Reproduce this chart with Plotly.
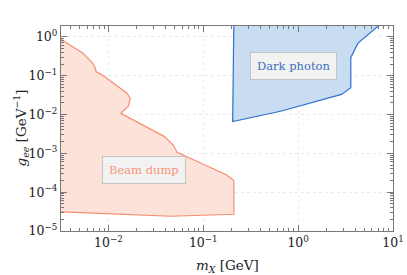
import plotly.graph_objects as go

# Beam dump excluded region (m_X [GeV], g_ee [GeV^-1])
beam_x = [0.00316, 0.0054, 0.0068, 0.0073, 0.0074, 0.0091, 0.0158, 0.017, 0.0163, 0.0135,
          0.039, 0.048, 0.053, 0.175, 0.21, 0.21, 0.045, 0.012, 0.00316]
beam_y = [0.87, 0.38, 0.21, 0.155, 0.128, 0.095, 0.035, 0.026, 0.0166, 0.0107,
          0.0027, 0.00166, 0.00107, 2.8e-4, 2.0e-4, 2.7e-5, 2.4e-5, 2.75e-5, 3.1e-5]

# Dark photon excluded region
dark_x = [0.21, 0.204, 0.67, 2.86, 3.59, 3.59, 4.28, 7.96, 0.21]
dark_y = [2.5, 0.0066, 0.0123, 0.033, 0.049, 0.295, 0.69, 2.5, 2.5]

x_tickvals = [0.01, 0.1, 1, 10]
x_ticktext = ["10<sup>−2</sup>", "10<sup>−1</sup>", "10<sup>0</sup>", "10<sup>1</sup>"]
y_tickvals = [1e-5, 1e-4, 1e-3, 1e-2, 1e-1, 1]
y_ticktext = ["10<sup>−5</sup>", "10<sup>−4</sup>", "10<sup>−3</sup>", "10<sup>−2</sup>",
              "10<sup>−1</sup>", "10<sup>0</sup>"]

x_minor = [k * 10.0 ** e for e in range(-3, 1) for k in range(2, 10)]
y_minor = [k * 10.0 ** e for e in range(-5, 1) for k in range(2, 10)]

FONT = "DejaVu Serif"

fig = go.Figure()
fig.add_trace(go.Scatter(x=beam_x, y=beam_y, mode="lines", fill="toself",
                         fillcolor="#fde2da",
                         line=dict(color="#f88d6f", width=1.2), hoverinfo="skip"))
fig.add_trace(go.Scatter(x=dark_x, y=dark_y, mode="lines", fill="toself",
                         fillcolor="#c8dcf2",
                         line=dict(color="#2f72d0", width=1.2), hoverinfo="skip"))

fig.add_annotation(x=-1.63, y=-3.43, xref="x", yref="y", text="Beam dump", showarrow=False,
                   font=dict(family=FONT, size=11.5, color="#f99478"),
                   bgcolor="#f2f2f2", bordercolor="#c4c4c4", borderwidth=1, borderpad=6)
fig.add_annotation(x=-0.047, y=-0.755, xref="x", yref="y", text="Dark photon", showarrow=False,
                   font=dict(family=FONT, size=11.5, color="#3a6fc0"),
                   bgcolor="#f2f2f2", bordercolor="#c4c4c4", borderwidth=1, borderpad=6)

# axis titles
fig.add_annotation(x=0.5, y=0, xref="paper", yref="paper", yanchor="top", yshift=-24,
                   text="<i>m</i><sub><i>X</i></sub> [GeV]", showarrow=False,
                   font=dict(family=FONT, size=13.5, color="#222"))
fig.add_annotation(x=0, y=0.5, xref="paper", yref="paper", xanchor="center", xshift=-40,
                   text="<i>g</i><sub><i>ee</i></sub> [GeV<sup>−1</sup>]", showarrow=False,
                   textangle=-90, font=dict(family=FONT, size=13.5, color="#222"))

def axis_common(minor_vals):
    return dict(
        showline=True, linecolor="#777", linewidth=1.2, mirror="allticks",
        ticks="inside", ticklen=6, tickcolor="#777", tickwidth=1,
        showgrid=True, gridcolor="#ebebeb", griddash="dot", gridwidth=1,
        zeroline=False, automargin=False,
        tickfont=dict(family=FONT, size=12.5, color="#222"),
        minor=dict(ticks="inside", ticklen=3, tickcolor="#777", showgrid=False,
                   tickmode="array", tickvals=minor_vals),
    )

fig.update_xaxes(type="log", range=[-2.5, 1], tickvals=x_tickvals, ticktext=x_ticktext,
                 **axis_common(x_minor))
fig.update_yaxes(type="log", range=[-5, 0.28], tickvals=y_tickvals, ticktext=y_ticktext,
                 **axis_common(y_minor))

fig.update_layout(width=407, height=275, margin=dict(l=61, r=14, t=26, b=44),
                  showlegend=False, plot_bgcolor="white", paper_bgcolor="white")

fig.write_html("out.html", config={"displayModeBar": False},
               post_script="document.body.style.margin='0';")
